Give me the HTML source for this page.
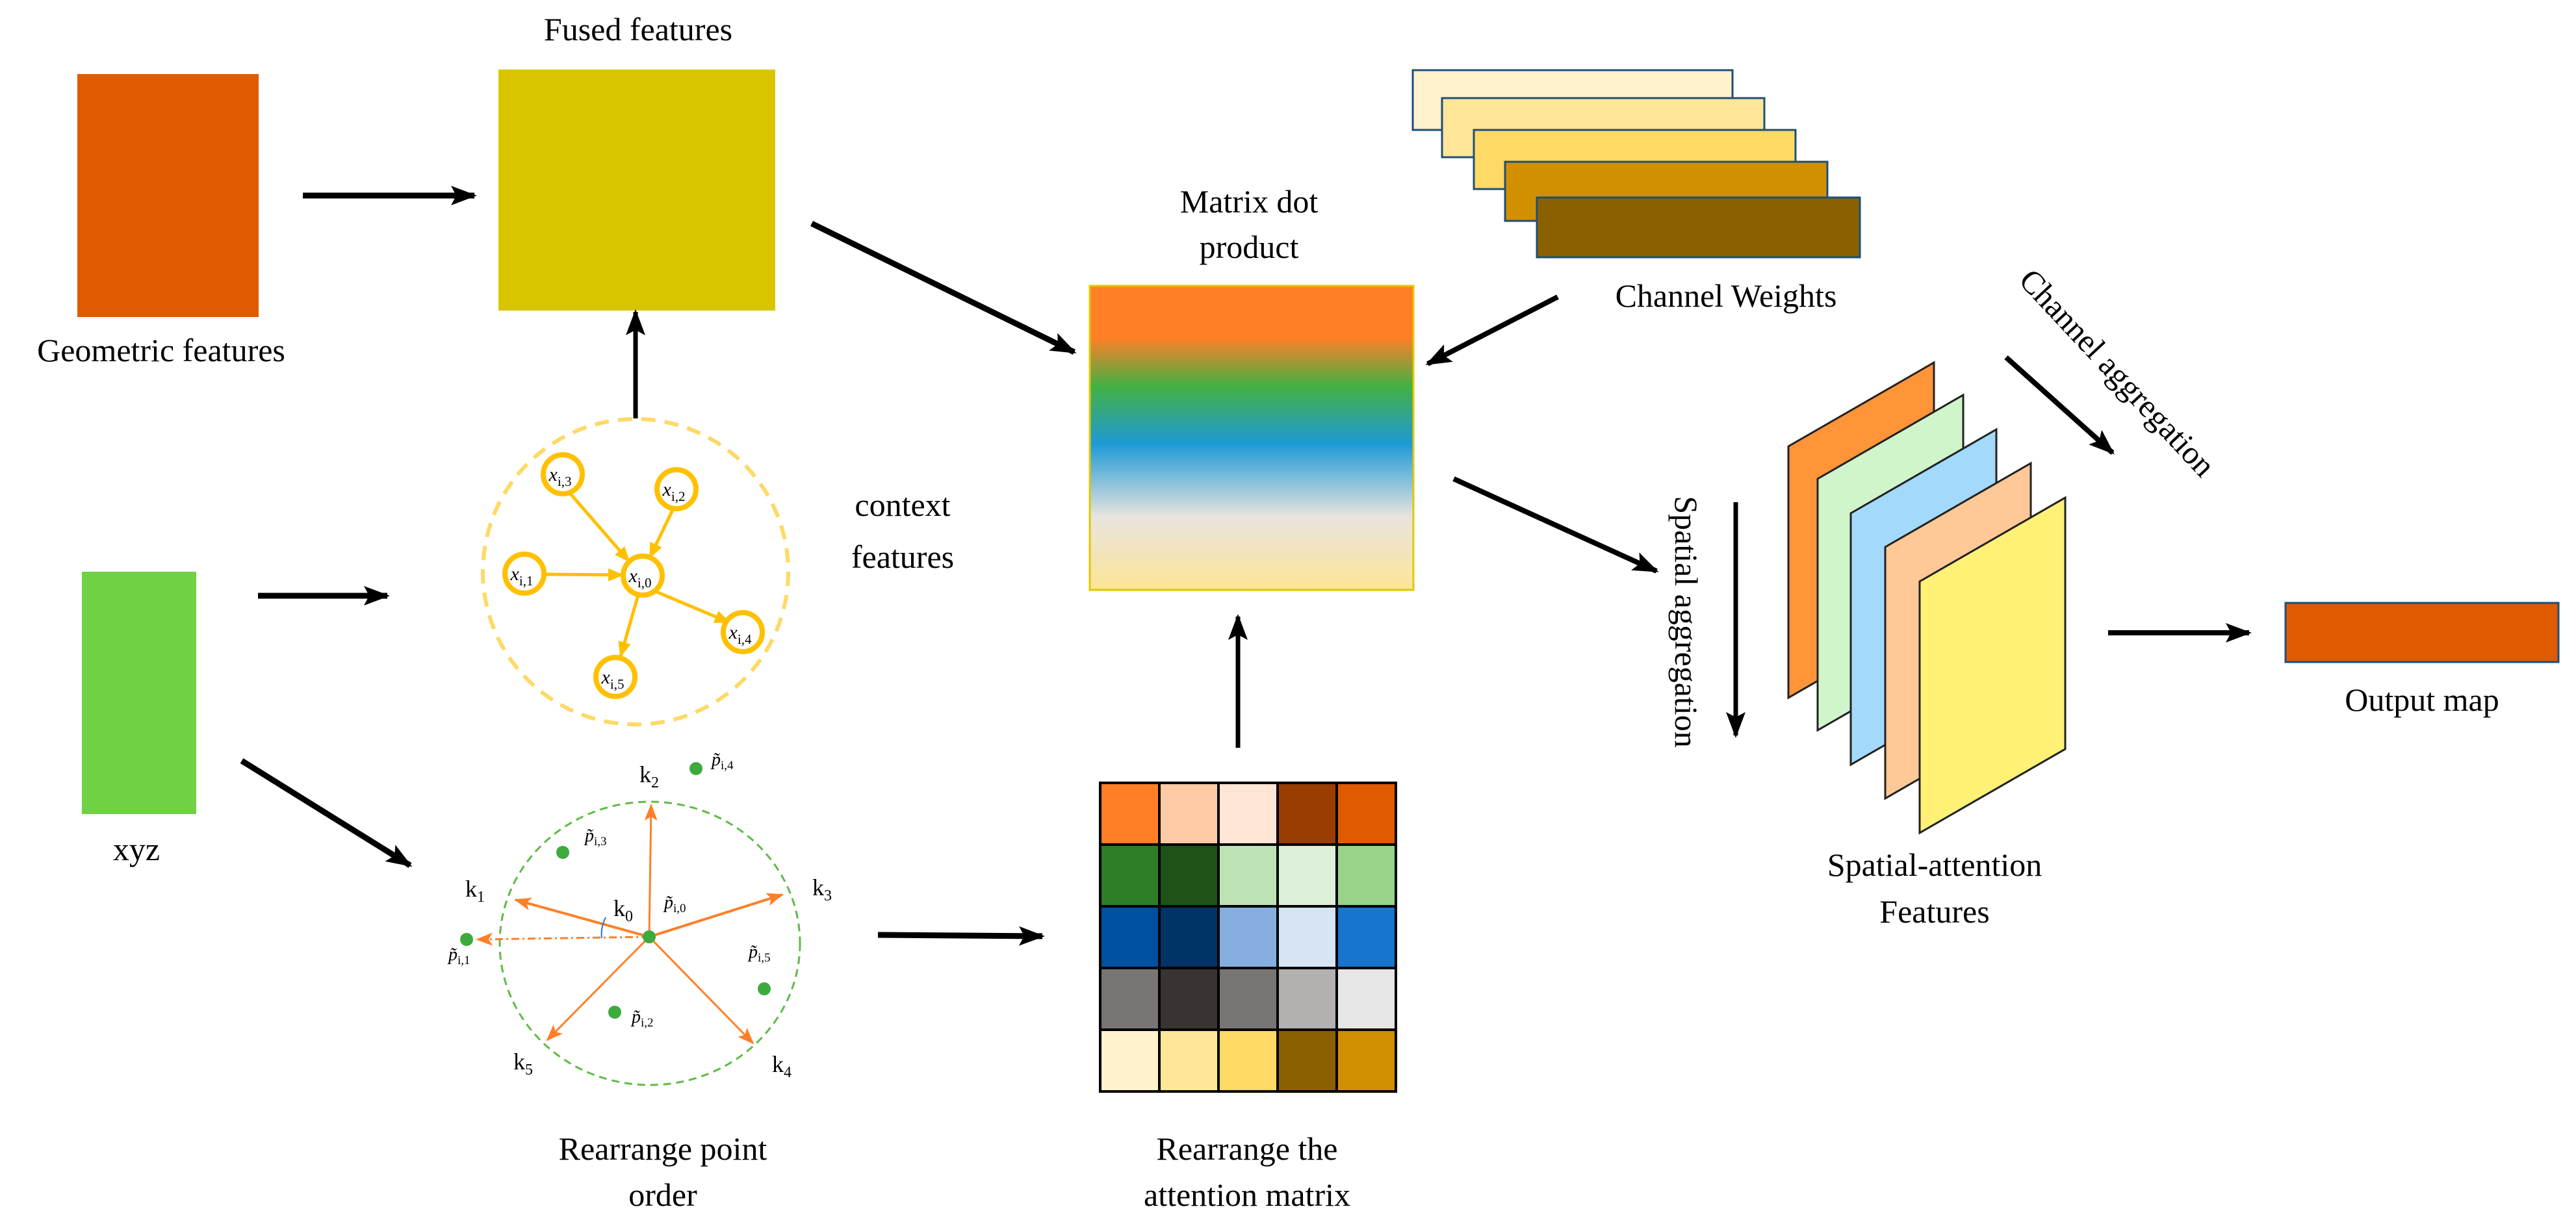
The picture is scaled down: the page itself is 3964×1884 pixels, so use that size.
<!DOCTYPE html>
<html><head><meta charset="utf-8"><style>
html,body{margin:0;padding:0;background:#fff;}
svg{display:block;font-family:"Liberation Serif","Times New Roman",serif;}
svg text{font-family:"Liberation Serif","Times New Roman",serif;fill:#000;}
</style></head><body>
<svg width="3964" height="1884" viewBox="0 0 3964 1884" xmlns="http://www.w3.org/2000/svg" font-family="Liberation Serif, serif">
<defs>
<marker id="ab" markerUnits="userSpaceOnUse" markerWidth="40" markerHeight="34" refX="36" refY="17" orient="auto"><path d="M0,2 L40,17 L0,32 L8,17 Z" fill="#000"/></marker>
<marker id="ay" markerUnits="userSpaceOnUse" markerWidth="24" markerHeight="20" refX="22" refY="10" orient="auto"><path d="M0,0 L24,10 L0,20 Z" fill="#FFC000"/></marker>
<marker id="ao" markerUnits="userSpaceOnUse" markerWidth="26" markerHeight="20" refX="24" refY="10" orient="auto"><path d="M0,0 L26,10 L0,20 L6,10 Z" fill="#FF7F27"/></marker>
<linearGradient id="mg" x1="0" y1="0" x2="0" y2="1">
<stop offset="0" stop-color="#FF7F27"/><stop offset="0.17" stop-color="#FF7F27"/>
<stop offset="0.33" stop-color="#44B043"/><stop offset="0.52" stop-color="#1E9AD6"/>
<stop offset="0.76" stop-color="#E8E4DE"/><stop offset="1" stop-color="#FDE595"/>
</linearGradient>
</defs>

<rect x="119" y="114" width="279" height="374" fill="#E05A00"/>
<text x="248" y="556" font-size="50" text-anchor="middle">Geometric features</text>
<line x1="466" y1="301" x2="730" y2="301" stroke="#000" stroke-width="9" marker-end="url(#ab)"/>

<rect x="767" y="107" width="426" height="371" fill="#D8C500"/>
<text x="982" y="62" font-size="50" text-anchor="middle">Fused features</text>
<line x1="978" y1="644" x2="978" y2="480" stroke="#000" stroke-width="7" marker-end="url(#ab)"/>
<line x1="1249" y1="344" x2="1653" y2="542" stroke="#000" stroke-width="9" marker-end="url(#ab)"/>

<text x="1922" y="327" font-size="50" text-anchor="middle">Matrix dot</text>
<text x="1922" y="397" font-size="50" text-anchor="middle">product</text>
<rect x="1677" y="440" width="498" height="468" fill="url(#mg)" stroke="#E0C800" stroke-width="3"/>

<circle cx="978" cy="880" r="235" fill="none" stroke="#FFD966" stroke-width="6" stroke-dasharray="22,14"/>
<g stroke="#FFC000" stroke-width="5" fill="none">
<line x1="876" y1="758" x2="968" y2="864" marker-end="url(#ay)"/>
<line x1="1035" y1="785" x2="1000" y2="858" marker-end="url(#ay)"/>
<line x1="839" y1="884" x2="958" y2="885" marker-end="url(#ay)"/>
<line x1="1008" y1="910" x2="1122" y2="958" marker-end="url(#ay)"/>
<line x1="982" y1="916" x2="955" y2="1010" marker-end="url(#ay)"/>
</g>
<g fill="#fff" stroke="#FFC000" stroke-width="8">
<circle cx="866" cy="730" r="30"/><circle cx="1041" cy="753" r="30"/>
<circle cx="807" cy="883" r="30"/><circle cx="989" cy="886" r="30"/>
<circle cx="1143" cy="973" r="30"/><circle cx="947" cy="1042" r="30"/>
</g>
<g font-size="30" font-style="italic" text-anchor="middle">
<text x="862" y="740">x<tspan font-size="21" dy="8" font-style="normal">i,3</tspan></text>
<text x="1037" y="763">x<tspan font-size="21" dy="8" font-style="normal">i,2</tspan></text>
<text x="803" y="893">x<tspan font-size="21" dy="8" font-style="normal">i,1</tspan></text>
<text x="985" y="896">x<tspan font-size="21" dy="8" font-style="normal">i,0</tspan></text>
<text x="1139" y="983">x<tspan font-size="21" dy="8" font-style="normal">i,4</tspan></text>
<text x="943" y="1052">x<tspan font-size="21" dy="8" font-style="normal">i,5</tspan></text>
</g>
<text x="1389" y="794" font-size="50" text-anchor="middle">context</text>
<text x="1389" y="874" font-size="50" text-anchor="middle">features</text>

<rect x="126" y="880" width="176" height="373" fill="#6FD143"/>
<text x="210" y="1324" font-size="50" text-anchor="middle">xyz</text>
<line x1="397" y1="917" x2="596" y2="917" stroke="#000" stroke-width="9" marker-end="url(#ab)"/>
<line x1="372" y1="1171" x2="631" y2="1332" stroke="#000" stroke-width="9" marker-end="url(#ab)"/>

<ellipse cx="1000" cy="1452" rx="231" ry="218" fill="none" stroke="#5DBB46" stroke-width="3" stroke-dasharray="12,8"/>
<g stroke="#FF7F27" stroke-width="3" fill="none">
<line x1="999" y1="1442" x2="1002" y2="1239" marker-end="url(#ao)"/>
<line x1="999" y1="1442" x2="793" y2="1385" marker-end="url(#ao)" stroke-width="4"/>
<line x1="999" y1="1442" x2="1204" y2="1377" marker-end="url(#ao)" stroke-width="4"/>
<line x1="999" y1="1442" x2="842" y2="1601" marker-end="url(#ao)"/>
<line x1="999" y1="1442" x2="1159" y2="1606" marker-end="url(#ao)"/>
<line x1="999" y1="1442" x2="734" y2="1446" marker-end="url(#ao)" stroke-dasharray="12,5,3,5"/>
</g>
<path d="M932,1412 Q924,1428 926,1444" stroke="#1E7BD6" stroke-width="2" fill="none"/>
<g fill="#3DAA3D">
<circle cx="999" cy="1442" r="10"/><circle cx="1071" cy="1183" r="10"/><circle cx="866" cy="1312" r="10"/>
<circle cx="718" cy="1446" r="10"/><circle cx="1176" cy="1522" r="10"/><circle cx="946" cy="1558" r="10"/>
</g>
<g font-size="36">
<text x="984" y="1204">k<tspan font-size="24" dy="8">2</tspan></text>
<text x="716" y="1380">k<tspan font-size="24" dy="8">1</tspan></text>
<text x="1250" y="1378">k<tspan font-size="24" dy="8">3</tspan></text>
<text x="790" y="1646">k<tspan font-size="24" dy="8">5</tspan></text>
<text x="1188" y="1650">k<tspan font-size="24" dy="8">4</tspan></text>
<text x="944" y="1410">k<tspan font-size="24" dy="8">0</tspan></text>
</g>
<g font-size="28" font-style="italic">
<text x="1095" y="1178">p̃<tspan font-size="19" dy="6" font-style="normal">i,4</tspan></text>
<text x="900" y="1295">p̃<tspan font-size="19" dy="6" font-style="normal">i,3</tspan></text>
<text x="1022" y="1398">p̃<tspan font-size="19" dy="6" font-style="normal">i,0</tspan></text>
<text x="690" y="1478">p̃<tspan font-size="19" dy="6" font-style="normal">i,1</tspan></text>
<text x="1152" y="1474">p̃<tspan font-size="19" dy="6" font-style="normal">i,5</tspan></text>
<text x="972" y="1574">p̃<tspan font-size="19" dy="6" font-style="normal">i,2</tspan></text>
</g>
<text x="1020" y="1785" font-size="50" text-anchor="middle">Rearrange point</text>
<text x="1020" y="1856" font-size="50" text-anchor="middle">order</text>
<line x1="1351" y1="1439" x2="1604" y2="1441" stroke="#000" stroke-width="9" marker-end="url(#ab)"/>

<g stroke="#000" stroke-width="4">
<rect x="1693" y="1205" width="91" height="95" fill="#FF7F27"/><rect x="1784" y="1205" width="91" height="95" fill="#FFCBA4"/><rect x="1875" y="1205" width="91" height="95" fill="#FFE5D5"/><rect x="1966" y="1205" width="91" height="95" fill="#993D00"/><rect x="2057" y="1205" width="91" height="95" fill="#E05A00"/>
<rect x="1693" y="1300" width="91" height="95" fill="#2E7D27"/><rect x="1784" y="1300" width="91" height="95" fill="#1F5218"/><rect x="1875" y="1300" width="91" height="95" fill="#BDE3B5"/><rect x="1966" y="1300" width="91" height="95" fill="#DDF0DA"/><rect x="2057" y="1300" width="91" height="95" fill="#98D38A"/>
<rect x="1693" y="1395" width="91" height="95" fill="#0050A0"/><rect x="1784" y="1395" width="91" height="95" fill="#003366"/><rect x="1875" y="1395" width="91" height="95" fill="#86AEDE"/><rect x="1966" y="1395" width="91" height="95" fill="#D6E4F4"/><rect x="2057" y="1395" width="91" height="95" fill="#1874CD"/>
<rect x="1693" y="1490" width="91" height="95" fill="#7A7575"/><rect x="1784" y="1490" width="91" height="95" fill="#393433"/><rect x="1875" y="1490" width="91" height="95" fill="#7A7575"/><rect x="1966" y="1490" width="91" height="95" fill="#B3B0AF"/><rect x="2057" y="1490" width="91" height="95" fill="#E6E6E6"/>
<rect x="1693" y="1585" width="91" height="95" fill="#FFF2CC"/><rect x="1784" y="1585" width="91" height="95" fill="#FFE699"/><rect x="1875" y="1585" width="91" height="95" fill="#FFD966"/><rect x="1966" y="1585" width="91" height="95" fill="#8B6000"/><rect x="2057" y="1585" width="91" height="95" fill="#D09000"/>
</g>
<text x="1919" y="1785" font-size="50" text-anchor="middle">Rearrange the</text>
<text x="1919" y="1856" font-size="50" text-anchor="middle">attention matrix</text>
<line x1="1905" y1="1151" x2="1905" y2="949" stroke="#000" stroke-width="7" marker-end="url(#ab)"/>

<g stroke="#1F4E79" stroke-width="3">
<rect x="2174" y="108" width="492" height="92" fill="#FFF2CC"/>
<rect x="2219" y="151" width="496" height="91" fill="#FFE699"/>
<rect x="2268" y="200" width="495" height="91" fill="#FFD966"/>
<rect x="2316" y="249" width="496" height="91" fill="#D09000"/>
<rect x="2365" y="304" width="497" height="92" fill="#8B6000"/>
</g>
<text x="2656" y="472" font-size="50" text-anchor="middle">Channel Weights</text>
<line x1="2397" y1="457" x2="2197" y2="560" stroke="#000" stroke-width="8" marker-end="url(#ab)"/>
<line x1="2237" y1="737" x2="2549" y2="879" stroke="#000" stroke-width="8" marker-end="url(#ab)"/>

<text transform="translate(2578,957) rotate(90)" font-size="50" text-anchor="middle">Spatial aggregation</text>
<line x1="2671" y1="773" x2="2671" y2="1132" stroke="#000" stroke-width="7" marker-end="url(#ab)"/>

<g stroke="#222" stroke-width="3">
<polygon points="2752,687 2976,558 2976,945 2752,1074" fill="#FF9438"/>
<polygon points="2797,737 3021,608 3021,995 2797,1124" fill="#D0F5CB"/>
<polygon points="2848,790 3072,661 3072,1048 2848,1177" fill="#A3D9FB"/>
<polygon points="2901,842 3125,713 3125,1100 2901,1229" fill="#FFC896"/>
<polygon points="2954,895 3178,766 3178,1153 2954,1282" fill="#FFF176"/>
</g>
<text x="2977" y="1348" font-size="50" text-anchor="middle">Spatial-attention</text>
<text x="2977" y="1420" font-size="50" text-anchor="middle">Features</text>

<text transform="translate(3246,585) rotate(47)" font-size="50" text-anchor="middle">Channel aggregation</text>
<line x1="3087" y1="550" x2="3251" y2="697" stroke="#000" stroke-width="8" marker-end="url(#ab)"/>

<line x1="3244" y1="974" x2="3461" y2="974" stroke="#000" stroke-width="8" marker-end="url(#ab)"/>
<rect x="3517" y="928" width="420" height="91" fill="#E05A00" stroke="#1F4E79" stroke-width="3"/>
<text x="3727" y="1094" font-size="50" text-anchor="middle">Output map</text>
</svg>
</body></html>
